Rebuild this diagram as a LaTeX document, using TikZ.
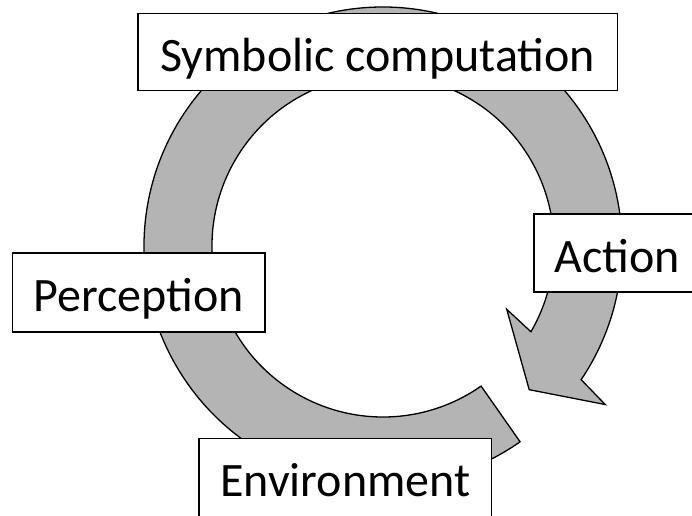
\documentclass[tikz,border=0pt]{standalone}
\usepackage{fontspec}
\setmainfont{Carlito}
\usetikzlibrary{calc}
\definecolor{ringgray}{RGB}{180,180,180}
\tikzset{
  ring/.style={draw=black, line width=1.3pt, fill=ringgray, line join=miter},
  stagebox/.style={draw=black, line width=1.3pt, fill=white, rectangle,
    inner sep=0pt, text height=44pt, text depth=6pt,
    font=\fontsize{48}{58}\selectfont},
}
\begin{document}
\begin{tikzpicture}[x=1pt, y=1pt]
  \useasboundingbox (0,0) rectangle (692,-515);
  \coordinate (c) at (383,-246);

  % circular arrow: flat tail at -55 deg, running clockwise round to a head near -40 deg
  \draw[ring]
    ($(c)+(-55:171)$) -- ($(c)+(-55:239)$)
    arc[start angle=-55, end angle=-394, radius=239]
    -- ($(c)+(-395.5:273)$)
    -- ($(c)+(-404.5:205)$)
    -- ($(c)+(-387.1:139)$)
    -- ($(c)+(-390.1:171)$)
    arc[start angle=-390.1, end angle=-55, radius=171]
    -- cycle;

  % stage labels
  \node[stagebox, minimum width=479.3, minimum height=77.4] (sym)  at (377.7,-52)   {Symbolic computation};
  \node[stagebox, minimum width=166,   minimum height=78]   (act)  at (617,-253)    {Action};
  \node[stagebox, minimum width=252.3, minimum height=79]   (per)  at (138.8,-292.5){Perception};
  \node[stagebox, minimum width=292.7, minimum height=78.7] (env)  at (345.3,-477.7){Environment};
\end{tikzpicture}
\end{document}
